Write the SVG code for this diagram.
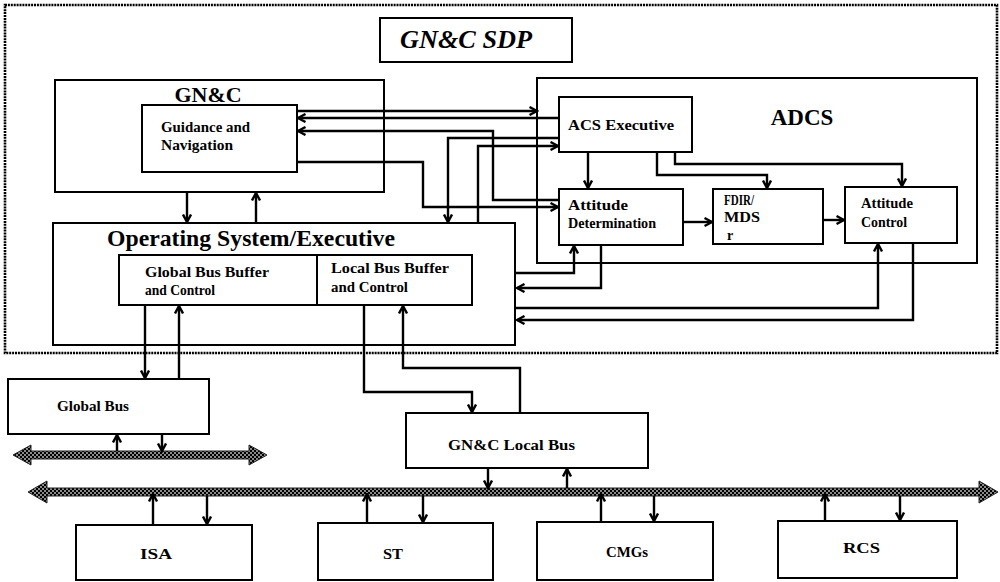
<svg xmlns="http://www.w3.org/2000/svg" width="1000" height="582" viewBox="0 0 1000 582">
<style>
.box{fill:#fff;stroke:#000;stroke-width:2}
.frame{fill:none;stroke:#000;stroke-width:2.6;stroke-dasharray:2 0.9}
.ca{fill:none;stroke:#000;stroke-width:2.4;marker-end:url(#a)}
.big{font-family:"Liberation Serif","Times New Roman",serif;font-weight:bold;fill:#000}
.sm{font-family:"Liberation Serif","Times New Roman",serif;font-weight:bold;font-size:14px;fill:#000}
.bus{fill:url(#hatch);stroke:#222;stroke-width:1}
</style>
<defs>
<marker id="a" viewBox="0 0 10 10" refX="8.5" refY="5" markerWidth="10" markerHeight="10" markerUnits="userSpaceOnUse" orient="auto">
<path d="M1,1 L8.5,5 L1,9" fill="none" stroke="#000" stroke-width="2.4"/>
</marker>
<pattern id="hatch" width="4" height="4" patternUnits="userSpaceOnUse">
<rect width="4" height="4" fill="#8a8a8a"/>
<rect width="2" height="2" fill="#000"/>
<rect x="2" y="2" width="2" height="2" fill="#000"/>
</pattern>
</defs>
<rect width="1000" height="582" fill="#fff"/>

<g id="sdp-frame">
<rect class="frame" x="5" y="5" width="992" height="348"/>
</g>
<g id="title">
<rect class="box" x="380" y="18" width="192" height="44"/>
<text class="big" x="466" y="48" font-size="25" font-style="italic" text-anchor="middle" textLength="132" lengthAdjust="spacingAndGlyphs">GN&amp;C SDP</text>
</g>

<g id="gnc">
<rect class="box" x="55" y="80" width="329" height="112"/>
<text class="big" x="208" y="102" font-size="22" text-anchor="middle">GN&amp;C</text>
</g>
<g id="guidance">
<rect class="box" x="142" y="105" width="155" height="67"/>
<text class="sm" x="161" y="132" textLength="89" lengthAdjust="spacingAndGlyphs">Guidance and</text>
<text class="sm" x="161" y="150" textLength="72" lengthAdjust="spacingAndGlyphs">Navigation</text>
</g>

<g id="adcs">
<rect class="box" x="537" y="78" width="440" height="185"/>
<text class="big" x="802" y="125" font-size="23" text-anchor="middle">ADCS</text>
</g>
<g id="acs-exec">
<rect class="box" x="559" y="97" width="133" height="55"/>
<text class="sm" x="568" y="130" textLength="106" lengthAdjust="spacingAndGlyphs">ACS Executive</text>
</g>
<g id="att-det">
<rect class="box" x="559" y="189" width="124" height="56"/>
<text class="sm" x="568" y="210" textLength="60" lengthAdjust="spacingAndGlyphs">Attitude</text>
<text class="sm" x="568" y="228" textLength="88" lengthAdjust="spacingAndGlyphs">Determination</text>
</g>
<g id="fdir">
<rect class="box" x="713" y="189" width="110" height="55"/>
<text class="sm" x="724" y="205" textLength="30" lengthAdjust="spacingAndGlyphs">FDIR/</text>
<text class="sm" x="724" y="222" textLength="36" lengthAdjust="spacingAndGlyphs">MDS</text>
<text class="sm" x="727" y="240">r</text>
</g>
<g id="att-ctrl">
<rect class="box" x="845" y="187" width="112" height="56"/>
<text class="sm" x="861" y="208" textLength="52" lengthAdjust="spacingAndGlyphs">Attitude</text>
<text class="sm" x="861" y="227" textLength="46" lengthAdjust="spacingAndGlyphs">Control</text>
</g>

<g id="os">
<rect class="box" x="53" y="223" width="462" height="122"/>
<text class="big" x="107" y="246" font-size="23" textLength="288" lengthAdjust="spacingAndGlyphs">Operating System/Executive</text>
</g>
<g id="global-buffer">
<rect class="box" x="119" y="255" width="198" height="50"/>
<text class="sm" x="145" y="277" textLength="124" lengthAdjust="spacingAndGlyphs">Global Bus Buffer</text>
<text class="sm" x="145" y="295" textLength="70" lengthAdjust="spacingAndGlyphs">and Control</text>
</g>
<g id="local-buffer">
<rect class="box" x="317" y="255" width="155" height="50"/>
<text class="sm" x="331" y="273" textLength="118" lengthAdjust="spacingAndGlyphs">Local Bus Buffer</text>
<text class="sm" x="331" y="292" textLength="77" lengthAdjust="spacingAndGlyphs">and Control</text>
</g>

<g id="global-bus">
<rect class="box" x="8" y="379" width="201" height="55"/>
<text class="sm" x="57" y="411" textLength="72" lengthAdjust="spacingAndGlyphs">Global Bus</text>
</g>
<g id="global-bus-line">
<polygon class="bus" points="13,455 31,445 31,451 249,451 249,445 267,455 249,465 249,459 31,459 31,465"/>
</g>
<g id="local-bus">
<rect class="box" x="406" y="413" width="242" height="55"/>
<text class="sm" x="448" y="450" textLength="127" lengthAdjust="spacingAndGlyphs">GN&amp;C Local Bus</text>
</g>
<g id="local-bus-line">
<polygon class="bus" points="28,492 47,481 47,488 979,488 979,481 998,492 979,503 979,496 47,496 47,503"/>
</g>
<g id="isa">
<rect class="box" x="76" y="525" width="176" height="55"/>
<text class="sm" x="140" y="559" textLength="32" lengthAdjust="spacingAndGlyphs">ISA</text>
</g>
<g id="st">
<rect class="box" x="318" y="523" width="175" height="57"/>
<text class="sm" x="383" y="559" textLength="20" lengthAdjust="spacingAndGlyphs">ST</text>
</g>
<g id="cmgs">
<rect class="box" x="537" y="522" width="176" height="58"/>
<text class="sm" x="606" y="557" textLength="42" lengthAdjust="spacingAndGlyphs">CMGs</text>
</g>
<g id="rcs">
<rect class="box" x="778" y="521" width="179" height="57"/>
<text class="sm" x="843" y="553" textLength="37" lengthAdjust="spacingAndGlyphs">RCS</text>
</g>

<g id="connectors">
<path class="ca" d="M297,111 H537"/>
<path class="ca" d="M559,118 H298"/>
<path class="ca" d="M559,200 H493 V131 H298"/>
<path class="ca" d="M297,162 H423 V207 H558"/>
<path class="ca" d="M559,138 H448 V222"/>
<path class="ca" d="M478,223 V146 H558"/>
<path class="ca" d="M187,192 V222"/>
<path class="ca" d="M256,223 V193"/>
<path class="ca" d="M588,152 V188"/>
<path class="ca" d="M657,152 V175 H767 V188"/>
<path class="ca" d="M675,152 V164 H902 V186"/>
<path class="ca" d="M683,222 H712"/>
<path class="ca" d="M823,220 H844"/>
<path class="ca" d="M516,273 H574 V246"/>
<path class="ca" d="M601,245 V288 H517"/>
<path class="ca" d="M516,308 H878 V244"/>
<path class="ca" d="M913,243 V320 H517"/>
<path class="ca" d="M145,305 V378"/>
<path class="ca" d="M179,379 V306"/>
<path class="ca" d="M117,451 V435"/>
<path class="ca" d="M162,434 V451"/>
<path class="ca" d="M364,305 V392 H472 V412"/>
<path class="ca" d="M520,413 V368 H403 V306"/>
<path class="ca" d="M488,468 V488"/>
<path class="ca" d="M567,488 V469"/>
<path class="ca" d="M153,525 V494"/>
<path class="ca" d="M207,496 V524"/>
<path class="ca" d="M367,523 V494"/>
<path class="ca" d="M423,496 V522"/>
<path class="ca" d="M601,522 V494"/>
<path class="ca" d="M654,496 V521"/>
<path class="ca" d="M825,521 V494"/>
<path class="ca" d="M900,496 V520"/>
</g>
</svg>
